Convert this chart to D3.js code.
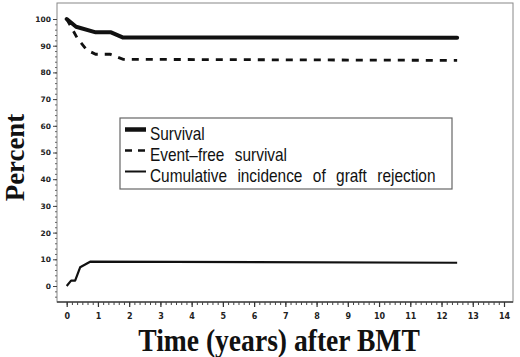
<!DOCTYPE html>
<html>
<head>
<meta charset="utf-8">
<script src="https://cdn.jsdelivr.net/npm/d3@7"></script>
<style>
  body { margin: 0; background: #fff; }
  svg { display: block; }
</style>
</head>
<body>
<div id="chart"></div>
<script>
// data (years, percent)
var survivalYears = [0, 0.3, 0.93, 1.42, 1.79, 12.5];
var survivalPct = [100, 97.1, 95.0, 95.0, 93.1, 93.0];

var eventFreeYears = [0, 0.34, 0.64, 0.93, 1.39, 1.81, 12.5];
var eventFreePct = [100, 92.8, 88.4, 86.8, 86.8, 84.9, 84.5];

var rejectionYears = [0, 0.14, 0.27, 0.43, 0.75, 12.5];
var rejectionPct = [0, 2.0, 2.0, 7.0, 9.1, 8.7];

var xTicks = [0, 1, 2, 3, 4, 5, 6, 7, 8, 9, 10, 11, 12, 13, 14];
var yTicks = [0, 10, 20, 30, 40, 50, 60, 70, 80, 90, 100];

var legendLabels = ["Survival", "Event\u2013free survival", "Cumulative incidence of graft rejection"];

var width = 520, height = 357;

var svg = d3.select("#chart")
  .append("svg")
  .attr("width", width)
  .attr("height", height);

// frame of the plot
var frame = { left: 57, top: 3, right: 513, bottom: 302 };

var x = d3.scaleLinear()
  .domain([0, 14])
  .range([66.7, 504]);

var y = d3.scaleLinear()
  .domain([0, 100])
  .range([286, 19]);

svg.append("rect")
  .attr("x", frame.left)
  .attr("y", frame.top)
  .attr("width", frame.right - frame.left)
  .attr("height", frame.bottom - frame.top)
  .attr("fill", "none")
  .attr("stroke", "#888")
  .attr("stroke-width", 1);

// x axis, minor ticks every 2 months
var xMinor = d3.range(0, 14 * 6 + 1).map(function (i) { return i / 6; });
svg.append("g")
  .attr("transform", "translate(0," + frame.bottom + ")")
  .call(d3.axisBottom(x).tickValues(xMinor).tickSize(3).tickFormat(""))
  .call(function (g) { g.select(".domain").remove(); })
  .selectAll("line").attr("stroke", "#444");

var xAxis = svg.append("g")
  .attr("transform", "translate(0," + frame.bottom + ")")
  .call(d3.axisBottom(x).tickValues(xTicks).tickSize(5).tickPadding(6));
xAxis.select(".domain").attr("d", "M" + frame.left + ",0H" + frame.right).attr("stroke", "#444").attr("stroke-width", 1.5);
xAxis.selectAll("line").attr("stroke", "#333").attr("stroke-width", 1.2);
xAxis.selectAll("text")
  .style("font-family", "'DejaVu Sans', sans-serif")
  .style("font-size", "8px")
  .style("font-weight", "bold")
  .attr("fill", "#222");

// y axis, minor ticks every 2 percent
var yMinor = d3.range(-4, 101, 2);
svg.append("g")
  .attr("transform", "translate(" + frame.left + ",0)")
  .call(d3.axisLeft(y).tickValues(yMinor).tickSize(2).tickFormat(""))
  .call(function (g) { g.select(".domain").remove(); })
  .selectAll("line").attr("stroke", "#666");

var yAxis = svg.append("g")
  .attr("transform", "translate(" + frame.left + ",0)")
  .call(d3.axisLeft(y).tickValues(yTicks).tickSize(4).tickPadding(2));
yAxis.select(".domain").remove();
yAxis.selectAll("line").attr("stroke", "#444");
yAxis.selectAll("text")
  .style("font-family", "'DejaVu Sans', sans-serif")
  .style("font-size", "7.5px")
  .style("font-weight", "bold")
  .attr("fill", "#222");

// curves
var line = d3.line()
  .x(function (d) { return x(d[0]); })
  .y(function (d) { return y(d[1]); });

function pairs(xs, ys) {
  return xs.map(function (v, i) { return [v, ys[i]]; });
}

svg.append("path")
  .datum(pairs(survivalYears, survivalPct))
  .attr("fill", "none")
  .attr("stroke", "#111")
  .attr("stroke-width", 4)
  .attr("stroke-linecap", "round")
  .attr("stroke-linejoin", "round")
  .attr("d", line);

svg.append("path")
  .datum(pairs(eventFreeYears, eventFreePct))
  .attr("fill", "none")
  .attr("stroke", "#111")
  .attr("stroke-width", 2.8)
  .attr("stroke-dasharray", "7,7")
  .attr("d", line);

svg.append("path")
  .datum(pairs(rejectionYears, rejectionPct))
  .attr("fill", "none")
  .attr("stroke", "#111")
  .attr("stroke-width", 2.2)
  .attr("stroke-linejoin", "round")
  .attr("d", line);

// legend
var legend = svg.append("g");
legend.append("rect")
  .attr("x", 120)
  .attr("y", 118)
  .attr("width", 332)
  .attr("height", 71)
  .attr("fill", "#fff")
  .attr("stroke", "#666")
  .attr("stroke-width", 1.2);

var legendStyles = [
  { w: 4.5, dash: null },
  { w: 2.6, dash: "7,6" },
  { w: 2, dash: null }
];

legendLabels.forEach(function (label, i) {
  var ly = 139.5 + i * 21;
  legend.append("line")
    .attr("x1", 125)
    .attr("x2", 146)
    .attr("y1", ly - 10)
    .attr("y2", ly - 10)
    .attr("stroke", "#111")
    .attr("stroke-width", legendStyles[i].w)
    .attr("stroke-dasharray", legendStyles[i].dash);
  legend.append("text")
    .attr("transform", "translate(150," + ly + ") scale(0.88,1)")
    .style("font-family", "'Liberation Sans', Arial, sans-serif")
    .style("font-size", "17.5px")
    .style("word-spacing", "7px")
    .attr("fill", "#111")
    .text(label);
});

// axis titles
svg.append("text")
  .attr("transform", "translate(24,157.5) rotate(-90) scale(0.96,1)")
  .attr("text-anchor", "middle")
  .style("font-family", "'Liberation Serif', 'Times New Roman', serif")
  .style("font-size", "28px")
  .style("font-weight", "bold")
  .attr("fill", "#111")
  .text("Percent");

svg.append("text")
  .attr("transform", "translate(279,351) scale(0.89,1)")
  .attr("text-anchor", "middle")
  .style("font-family", "'Liberation Serif', 'Times New Roman', serif")
  .style("font-size", "31px")
  .style("font-weight", "bold")
  .attr("fill", "#111")
  .text("Time (years) after BMT");
</script>
</body>
</html>
